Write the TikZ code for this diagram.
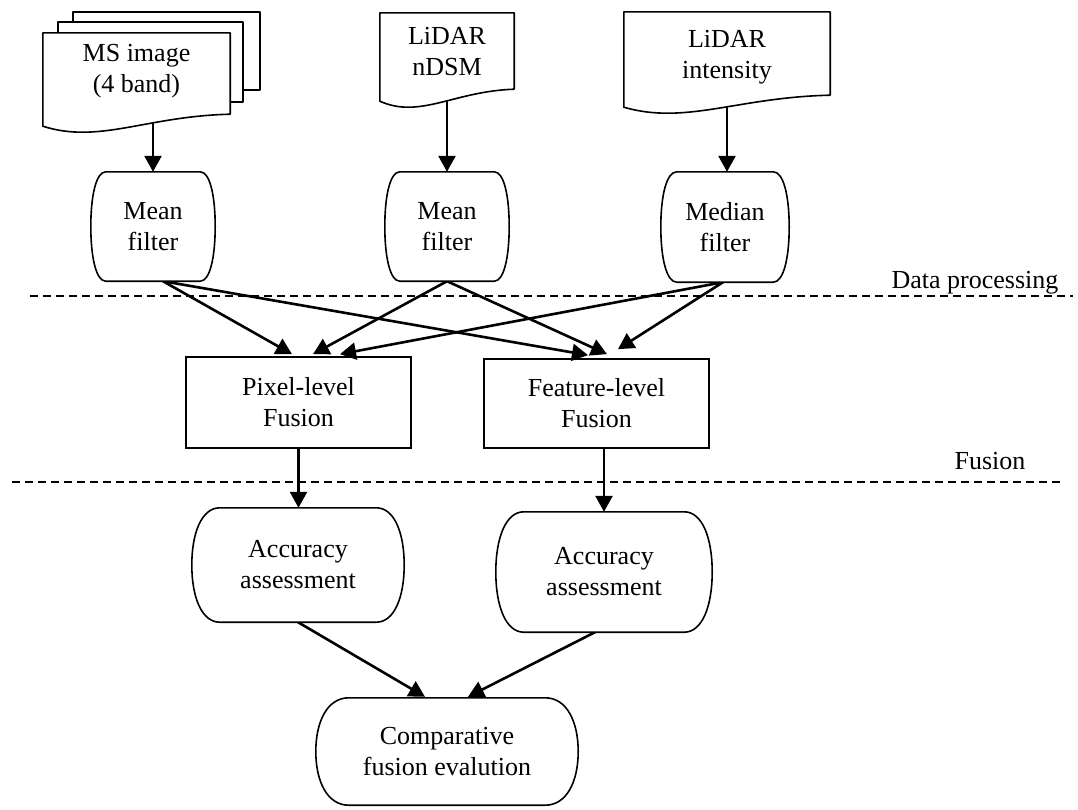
\documentclass[tikz,border=0pt]{standalone}
\usepackage{fontspec}
\setmainfont{Liberation Serif}
\usetikzlibrary{arrows.meta,calc}
\pgfdeclarelayer{links}
\pgfdeclarelayer{outlines}
\pgfsetlayers{links,outlines,main}

\tikzset{
  txt/.style={font=\fontsize{26}{31}\selectfont, align=center, inner sep=0pt},
  shapebox/.style={txt, rectangle, draw=none},
  rectbox/.style={txt, rectangle, draw, line width=1.7pt},
  outline/.style={draw, line width=1.6pt, fill=white, line join=round},
  flow/.style={line width=2.6pt, -{Triangle[length=16pt,width=17pt]}},
  divider/.style={line width=2pt, dash pattern=on 8pt off 5pt},
  stagelabel/.style={font=\fontsize{26}{31}\selectfont, anchor=base, inner sep=0pt},
}

% document symbol around a node: wavy lower edge, left corner dropped by #2
\newcommand\docshape[2]{%
  \coordinate (#1-bl) at ([yshift=-#2]#1.south west);
  \coordinate (#1-br) at ([yshift=-#2]#1.south east);
  \path[outline] (#1.north west) -- (#1.north east) -- ([yshift=12pt]#1-br)
    .. controls ($(#1-bl)!0.55!(#1-br)+(0,10pt)$) and ($(#1-bl)!0.3!(#1-br)+(0,-18pt)$)
    .. (#1-bl) -- cycle;
}

% flat top and bottom, bulging sides; #2 is the inset of the top/bottom corners
\newcommand\barrelshape[2]{%
  \path[outline] let \p1=(#1.north west), \p2=(#1.south east) in
    (\x1+#2,\y1) -- (\x2-#2,\y1)
    .. controls (\x2-0.35*#2,\y1) and (\x2,0.78*\y1+0.22*\y2) .. (\x2,0.5*\y1+0.5*\y2)
    .. controls (\x2,0.22*\y1+0.78*\y2) and (\x2-0.35*#2,\y2) .. (\x2-#2,\y2)
    -- (\x1+#2,\y2)
    .. controls (\x1+0.35*#2,\y2) and (\x1,0.22*\y1+0.78*\y2) .. (\x1,0.5*\y1+0.5*\y2)
    .. controls (\x1,0.78*\y1+0.22*\y2) and (\x1+0.35*#2,\y1) .. cycle;
}

\begin{document}
\begin{tikzpicture}[x=1pt,y=-1pt]
\useasboundingbox (0,0) rectangle (1078,809);

% stacked sheets behind the multispectral image
\begin{pgfonlayer}{outlines}
  \draw[outline] (73,12) rectangle (260,90);
  \draw[outline] (58,22) rectangle (243,102);
\end{pgfonlayer}

% inputs
\node[shapebox, minimum width=187pt, minimum height=76pt] (ms) at (136.5,71) {MS image\\(4 band)};
\node[shapebox, minimum width=134pt, minimum height=78pt] (nd) at (447,52) {LiDAR\\nDSM};
\node[shapebox, minimum width=206pt, minimum height=90pt] (int) at (727,57) {LiDAR\\intensity};

% filters
\node[shapebox, minimum width=124pt, minimum height=109pt] (mf1) at (153,226.5) {Mean\\filter};
\node[shapebox, minimum width=124pt, minimum height=109pt] (mf2) at (447,226.5) {Mean\\filter};
\node[shapebox, minimum width=128pt, minimum height=110pt] (med) at (725,227) {Median\\filter};

% fusion
\node[rectbox, minimum width=225pt, minimum height=91pt] (pix) at (298.5,402.5) {Pixel-level\\Fusion};
\node[rectbox, minimum width=225pt, minimum height=89pt] (feat) at (596.5,403.5) {Feature-level\\Fusion};

% assessment
\node[shapebox, minimum width=212pt, minimum height=114pt] (acc1) at (298,565) {Accuracy\\assessment};
\node[shapebox, minimum width=216pt, minimum height=120pt] (acc2) at (604,572) {Accuracy\\assessment};
\node[shapebox, minimum width=262pt, minimum height=107pt] (comp) at (447,751.5) {Comparative\\fusion evalution};

\begin{pgfonlayer}{outlines}
  \docshape{ms}{17pt}
  \docshape{nd}{10pt}
  \docshape{int}{5pt}
  \barrelshape{mf1}{15pt}
  \barrelshape{mf2}{15pt}
  \barrelshape{med}{16pt}
  \barrelshape{acc1}{28pt}
  \barrelshape{acc2}{28pt}
  \barrelshape{comp}{33pt}
\end{pgfonlayer}

% stage dividers
\coordinate (dp-l) at (30,296);
\coordinate (dp-r) at (1073,296);
\draw[divider] (dp-l) -- (dp-r);
\node[stagelabel] (dplabel) at (975,288) {Data processing};
\coordinate (fu-l) at (12,482);
\coordinate (fu-r) at (1062,482);
\draw[divider] (fu-l) -- (fu-r);
\node[stagelabel] (fulabel) at (990,469) {Fusion};

% connectors
\begin{pgfonlayer}{links}
  \draw[flow] (ms.south -| mf1.north) -- (mf1.north);
  \draw[flow] (nd.south) -- (mf2.north);
  \draw[flow] (int.south) -- (int.south |- med.north);

  \draw[flow] ([xshift=10pt]mf1.south) -- ([xshift=-6.5pt,yshift=2pt]pix.north);
  \draw[flow] ([xshift=10pt]mf1.south) -- ([xshift=-8.5pt,yshift=3pt]feat.north);
  \draw[flow] (mf2.south) -- ([xshift=14.5pt,yshift=2pt]pix.north);
  \draw[flow] (mf2.south) -- ([xshift=10.5pt,yshift=4pt]feat.north);
  \draw[flow] ([xshift=-2pt]med.south) -- ([xshift=41.5pt,yshift=2pt]pix.north);
  \draw[flow] ([xshift=-2pt]med.south) -- ([xshift=21.5pt,yshift=9pt]feat.north);

  \draw[flow] (pix.south) -- (pix.south |- acc1.north);
  \draw[flow] (acc2.north |- feat.south) -- (acc2.north);

  \draw[flow] (acc1.south) -- ([xshift=-22pt,yshift=1pt]comp.north);
  \draw[flow] ([xshift=-9pt]acc2.south) -- ([xshift=21pt,yshift=1pt]comp.north);
\end{pgfonlayer}
\end{tikzpicture}
\end{document}
